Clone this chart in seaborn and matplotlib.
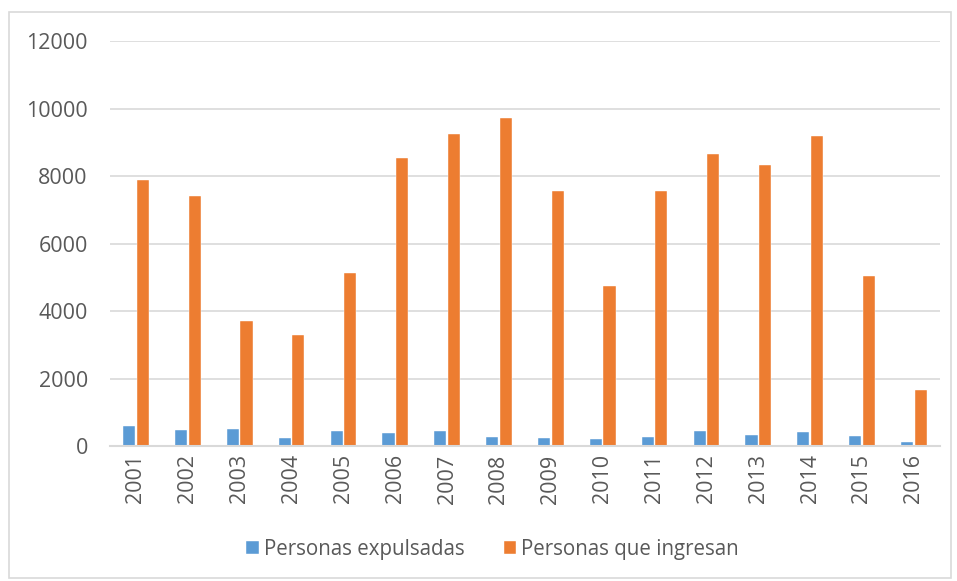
import pandas as pd
import matplotlib.pyplot as plt
import seaborn as sns
from matplotlib.patches import Rectangle

years = [str(y) for y in range(2001, 2017)]
expulsadas = [580, 470, 490, 240, 430, 370, 430, 280, 230, 220, 260, 440, 340, 410, 310, 130]
ingresan = [7900, 7400, 3700, 3280, 5130, 8550, 9250, 9720, 7550, 4740, 7560, 8650, 8320, 9200, 5040, 1660]
series = ["Personas expulsadas", "Personas que ingresan"]
colors = ["#5b9bd5", "#ed7d31"]

df = pd.DataFrame({
    "Año": years * 2,
    "Personas": expulsadas + ingresan,
    "Serie": [series[0]] * len(years) + [series[1]] * len(years),
})

sns.set_style("white")
plt.rcParams["font.family"] = ["Open Sans", "DejaVu Sans"]

fig = plt.figure(figsize=(9.57, 5.81), dpi=100)
ax = fig.add_axes([0.115, 0.2324, 0.867, 0.6966])

sns.barplot(data=df, x="Año", y="Personas", hue="Serie", palette=colors,
            saturation=1, width=0.52, gap=0.1, ax=ax, edgecolor="white", linewidth=0.3)

ax.set_ylim(0, 12000)
ax.set_yticks(range(0, 12001, 2000))
ax.set_xlim(-0.5, len(years) - 0.5)
ax.yaxis.grid(True, color="#d9d9d9", linewidth=1.2)
ax.set_axisbelow(True)
for s in ["top", "right", "left"]:
    ax.spines[s].set_visible(False)
ax.spines["bottom"].set_color("#d9d9d9")
ax.spines["bottom"].set_linewidth(1.5)
ax.tick_params(axis="both", length=0, colors="#595959", labelsize=15.5)
ax.tick_params(axis="y", pad=16)
ax.tick_params(axis="x", pad=6)
plt.setp(ax.get_xticklabels(), rotation=90)
ax.set_xlabel("")
ax.set_ylabel("")

ax.legend(loc="center", bbox_to_anchor=(0.461, -0.255), ncol=2, frameon=False,
          fontsize=14.8, labelcolor="#595959", handlelength=0.6, handleheight=0.6,
          handletextpad=0.25, columnspacing=1.9)

fig.patches.append(Rectangle((0.009, 0.005), 0.985, 0.975, transform=fig.transFigure,
                             fill=False, edgecolor="#d9d9d9", linewidth=1.2))

fig.savefig("out.png", dpi=100)
